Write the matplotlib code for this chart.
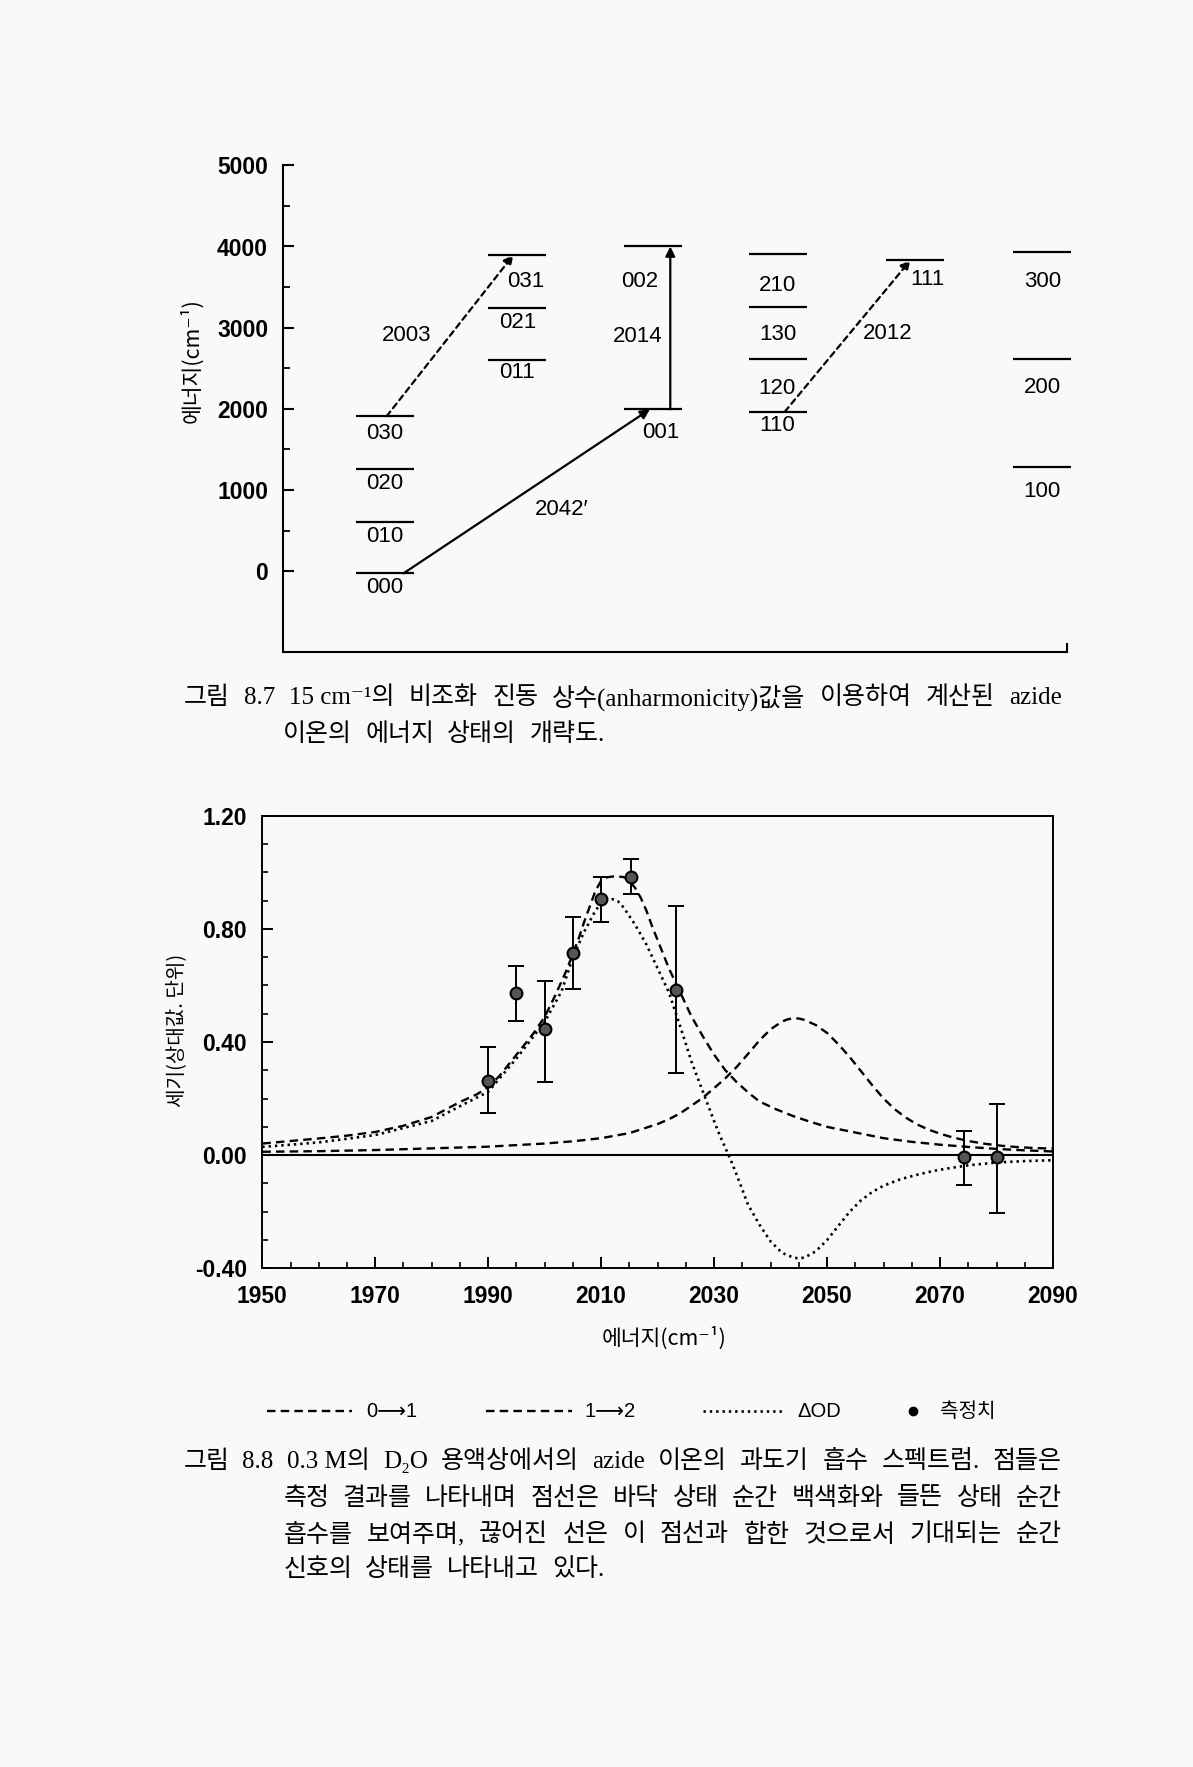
import matplotlib
matplotlib.use('Agg')
import matplotlib.pyplot as plt
from matplotlib.lines import Line2D
from matplotlib.ticker import FixedLocator, MultipleLocator, FormatStrFormatter
from matplotlib.patches import FancyArrowPatch

W, H = 1193, 1767

# ---------------- figure 8.7 data: energy levels ----------------
level_names = ['000', '010', '020', '030', '011', '021', '031', '001', '002',
               '110', '120', '130', '210', '111', '100', '200', '300']
level_col = [0, 0, 0, 0, 1, 1, 1, 2, 2, 3, 3, 3, 3, 4, 5, 5, 5]
level_E = [-25, 610, 1255, 1910, 2600, 3245, 3895, 1995, 4000,
           1966, 2611, 3259, 3908, 3830, 1288, 2611, 3929]

# transitions (start x, start E, end x, end E) in axis units
trans_names = ['2042\u2032', '2003', '2014', '2012']
trans_x0 = [15.4, 13.25, 49.4, 64.0]
trans_E0 = [-25, 1910, 1995, 1966]
trans_x1 = [46.8, 29.4, 49.4, 80.0]
trans_E1 = [1995, 3895, 4000, 3830]
trans_dashed = [False, True, False, True]
trans_lab_x = [35.6, 15.8, 45.3, 77.1]
trans_lab_E = [767, 2910, 2889, 2931]

# ---------------- figure 8.8 data: transient spectrum ----------------
x01 = [1950, 1955, 1960, 1965, 1970, 1975, 1980, 1985, 1988, 1990, 1992, 1994, 1996, 1998,
       2000, 2002, 2004, 2006, 2007, 2008, 2009, 2010, 2011, 2012, 2013, 2014, 2015, 2016,
       2017, 2018, 2019, 2020, 2021, 2022, 2024, 2026, 2028, 2030, 2032, 2034, 2036, 2038,
       2041, 2044, 2047, 2050, 2055, 2060, 2065, 2070, 2075, 2080, 2085, 2090]
y01 = [0.041, 0.050, 0.059, 0.069, 0.082, 0.104, 0.135, 0.188, 0.215, 0.241, 0.28, 0.33,
       0.38, 0.43, 0.489, 0.57, 0.66, 0.765, 0.825, 0.88, 0.935, 0.97, 0.982, 0.985, 0.985,
       0.983, 0.97, 0.945, 0.91, 0.865, 0.81, 0.76, 0.71, 0.66, 0.575, 0.49, 0.42, 0.355,
       0.3, 0.258, 0.222, 0.19, 0.162, 0.138, 0.118, 0.10, 0.08, 0.06, 0.047, 0.037, 0.029,
       0.022, 0.017, 0.013]

x12 = [1950, 1960, 1970, 1980, 1990, 2000, 2005, 2010, 2015, 2020, 2022, 2024, 2026, 2028,
       2030, 2032, 2034, 2036, 2038, 2040, 2042, 2043, 2044, 2045, 2046, 2048, 2050, 2052,
       2054, 2056, 2058, 2060, 2062, 2064, 2066, 2068, 2070, 2072, 2075, 2078, 2081, 2084,
       2087, 2090]
y12 = [0.012, 0.014, 0.018, 0.024, 0.030, 0.041, 0.049, 0.060, 0.078, 0.11, 0.127, 0.148,
       0.175, 0.203, 0.237, 0.272, 0.312, 0.358, 0.405, 0.445, 0.472, 0.48, 0.484, 0.483,
       0.478, 0.46, 0.432, 0.392, 0.347, 0.297, 0.247, 0.2, 0.162, 0.132, 0.108, 0.09,
       0.076, 0.064, 0.05, 0.04, 0.033, 0.028, 0.025, 0.023]

xod = [1950, 1960, 1970, 1980, 1985, 1990, 1995, 2000, 2003, 2005, 2007, 2009, 2010, 2011,
       2012, 2013, 2014, 2016, 2018, 2020, 2022, 2024, 2026, 2028, 2030, 2031, 2032, 2033,
       2034, 2036, 2038, 2040, 2042, 2044, 2045, 2046, 2048, 2050, 2052, 2054, 2056, 2058,
       2060, 2063, 2066, 2069, 2072, 2075, 2080, 2085, 2090]
yod = [0.029, 0.045, 0.071, 0.121, 0.173, 0.224, 0.342, 0.471, 0.58, 0.70, 0.79, 0.865,
       0.89, 0.903, 0.905, 0.897, 0.875, 0.815, 0.745, 0.66, 0.575, 0.455, 0.33, 0.225,
       0.12, 0.07, 0.025, -0.02, -0.07, -0.175, -0.245, -0.305, -0.345, -0.362, -0.365,
       -0.362, -0.34, -0.3, -0.25, -0.2, -0.16, -0.13, -0.108, -0.085, -0.069, -0.055,
       -0.045, -0.036, -0.026, -0.021, -0.018]

xm = [1990, 1995, 2000, 2005, 2010, 2015.3, 2023.2, 2074.3, 2080]
ym = [0.263, 0.572, 0.447, 0.715, 0.904, 0.984, 0.583, -0.008, -0.008]
ym_hi = [0.383, 0.668, 0.616, 0.842, 0.984, 1.046, 0.880, 0.086, 0.180]
ym_lo = [0.150, 0.475, 0.259, 0.587, 0.823, 0.923, 0.289, -0.104, -0.203]

xticks2 = [1950, 1970, 1990, 2010, 2030, 2050, 2070, 2090]
legend_labels = ['0\u27f61', '1\u27f62', '\u0394OD', '측정치']

cap1 = [['그림', '8.7', '15 cm\u207b\u00b9의', '비조화', '진동', '상수(anharmonicity)값을',
         '이용하여', '계산된', 'azide'],
        ['이온의', '에너지', '상태의', '개략도.']]
cap2 = [['그림', '8.8', '0.3 M의', 'D\u2082O', '용액상에서의', 'azide', '이온의', '과도기',
         '흡수', '스펙트럼.', '점들은'],
        ['측정', '결과를', '나타내며', '점선은', '바닥', '상태', '순간', '백색화와', '들뜬',
         '상태', '순간'],
        ['흡수를', '보여주며,', '끊어진', '선은', '이', '점선과', '합한', '것으로서', '기대되는',
         '순간'],
        ['신호의', '상태를', '나타내고', '있다.']]

# ---------------- styles ----------------
SANS = ['Liberation Sans', 'DejaVu Sans']
KOR = ['Noto Sans CJK KR', 'DejaVu Sans']
CAP = ['Liberation Serif', 'Noto Sans CJK KR', 'DejaVu Serif']
col_pos = [13.0, 29.9, 47.2, 63.1, 80.6, 96.8]
half_w = 3.7
lab_dx = [0, 0, 0, 0, 0, 0, 8, 8, -13, -1, -1, 0, 0, 12, 0, 0, 0]
lab_dy = [14, 15, 14, 17, 12, 15, 26, 23, 35, 14, 29, 28, 32, 19, 25, 28, 29]
DASH = (0, (3.6, 2.2))
DOT = (0, (0.9, 1.5))
BG = '#f9f9f7'

fig = plt.figure(figsize=(W / 100, H / 100), dpi=100, facecolor=BG)


def box(l, t, r, b):
    return [l / W, 1 - b / H, (r - l) / W, (b - t) / H]


# ================= figure 8.7 =================
ax1 = fig.add_axes(box(282.7, 165.3, 1067.3, 652.5))
ax1.set_facecolor('none')
ax1.set_xlim(0, 100)
ax1.set_ylim(-1000, 5000)
ax1.spines['top'].set_visible(False)
ax1.spines['right'].set_bounds(-1000, -900)
for s in ax1.spines.values():
    s.set_linewidth(1.5)
ax1.yaxis.set_major_locator(FixedLocator([0, 1000, 2000, 3000, 4000, 5000]))
ax1.yaxis.set_minor_locator(FixedLocator([500, 1500, 2500, 3500, 4500]))
ax1.tick_params(axis='y', which='major', direction='in', length=8, width=1.5, pad=10.5,
                labelsize=16.5)
ax1.tick_params(axis='y', which='minor', direction='in', length=5.3, width=1.3)
ax1.tick_params(axis='x', which='both', bottom=False, labelbottom=False)
for t in ax1.get_yticklabels():
    t.set_family(SANS)
    t.set_fontweight('bold')

for name, c, e, dx, dy in zip(level_names, level_col, level_E, lab_dx, lab_dy):
    xc = col_pos[c]
    ax1.plot([xc - half_w, xc + half_w], [e, e], color='k', lw=1.6,
             solid_capstyle='butt', clip_on=False)
    ax1.annotate(name, (xc, e), xytext=(dx * 0.72, -dy * 0.72), textcoords='offset points',
                 ha='center', va='center', fontsize=16, family=SANS)

for name, x0, e0, x1, e1, dsh, lx, le in zip(trans_names, trans_x0, trans_E0, trans_x1,
                                            trans_E1, trans_dashed, trans_lab_x, trans_lab_E):
    arr = FancyArrowPatch((x0, e0), (x1, e1), arrowstyle='-|>', mutation_scale=14,
                          lw=1.6, color='k', linestyle=(0, (2.6, 2.0)) if dsh else '-',
                          shrinkA=0, shrinkB=0)
    ax1.add_patch(arr)
    ax1.text(lx, le, name, ha='center', va='center', fontsize=16, family=SANS)

fig.text(191.7 / W, 1 - 360.7 / H, '에너지(cm\u207b\u00b9)', rotation=90, ha='center',
         va='center', fontsize=15.5, family=KOR)

# ================= figure 8.8 =================
ax2 = fig.add_axes(box(262.3, 815.7, 1053.0, 1268.3))
ax2.set_facecolor('none')
ax2.set_xlim(1950, 2090)
ax2.set_ylim(-0.40, 1.20)
for s in ax2.spines.values():
    s.set_linewidth(1.4)
ax2.xaxis.set_major_locator(FixedLocator(xticks2))
ax2.xaxis.set_minor_locator(MultipleLocator(5))
ax2.yaxis.set_major_locator(MultipleLocator(0.4))
ax2.yaxis.set_minor_locator(MultipleLocator(0.1))
ax2.yaxis.set_major_formatter(FormatStrFormatter('%.2f'))
ax2.tick_params(which='major', direction='in', length=8, width=1.4, labelsize=16.5)
ax2.tick_params(which='minor', direction='in', length=4.5, width=1.2)
ax2.tick_params(axis='x', which='major', pad=12)
ax2.tick_params(axis='y', which='major', pad=11)
for t in ax2.get_xticklabels() + ax2.get_yticklabels():
    t.set_family(SANS)
    t.set_fontweight('bold')

ax2.axhline(0, color='k', lw=1.5)
ax2.plot(x01, y01, color='k', lw=1.7, linestyle=DASH)
ax2.plot(x12, y12, color='k', lw=1.7, linestyle=DASH)
ax2.plot(xod, yod, color='k', lw=1.9, linestyle=DOT)
err = [[v - lo for v, lo in zip(ym, ym_lo)], [hi - v for v, hi in zip(ym, ym_hi)]]
ax2.errorbar(xm, ym, yerr=err, fmt='none', ecolor='k', elinewidth=1.4, capsize=5.5,
             capthick=1.4, zorder=3)
ax2.plot(xm, ym, 'o', ms=8.5, mfc='#555555', mec='k', mew=1.5, zorder=4)

fig.text(663.6 / W, 1 - 1338 / H, '에너지(cm\u207b\u00b9)', ha='center', va='center',
         fontsize=15.5, family=KOR)
fig.text(176.7 / W, 1 - 1030 / H, '세기(상대값. 단위)', rotation=90, ha='center',
         va='center', fontsize=14.5, family=KOR)

# legend row
leg_y = 1 - 1411 / H
leg_lines = [(266.7, 352, DASH, 1.7, 'line'), (486, 572, DASH, 1.7, 'line'),
             (703, 785, DOT, 1.9, 'line'), (913, 913, None, 0, 'dot')]
leg_text_x = [366, 585, 797, 940]
for (a, b, ls, lw, kind), tx, lab in zip(leg_lines, leg_text_x, legend_labels):
    if kind == 'line':
        fig.add_artist(Line2D([a / W, b / W], [leg_y, leg_y], color='k', lw=lw, linestyle=ls))
    else:
        fig.add_artist(Line2D([a / W], [leg_y], marker='o', ms=6, color='k', lw=0))
    fig.text(tx / W, leg_y, lab, ha='left', va='center', fontsize=14.5,
             family=KOR if lab == '측정치' else SANS)

# ================= captions =================
renderer = fig.canvas.get_renderer()


def put_line(words, x0, x1, y, justify):
    texts = [fig.text(0, 0, w, ha='left', va='center', fontsize=18, family=CAP,
                      fontweight='medium')
             for w in words]
    widths = [t.get_window_extent(renderer).width for t in texts]
    gap = (x1 - x0 - sum(widths)) / (len(words) - 1) if justify else 13
    x = x0
    for t, w in zip(texts, widths):
        t.set_position((x / W, 1 - y / H))
        x += w + gap


put_line(cap1[0], 183.3, 1062, 698, True)
put_line(cap1[1], 283.3, 1062, 734.5, False)
cap2_y = [1461.7, 1498.3, 1535, 1570]
for i, words in enumerate(cap2):
    put_line(words, 183.3 if i == 0 else 283.3, 1062, cap2_y[i], i < 3)

fig.savefig('out.png', dpi=100, facecolor=BG)
